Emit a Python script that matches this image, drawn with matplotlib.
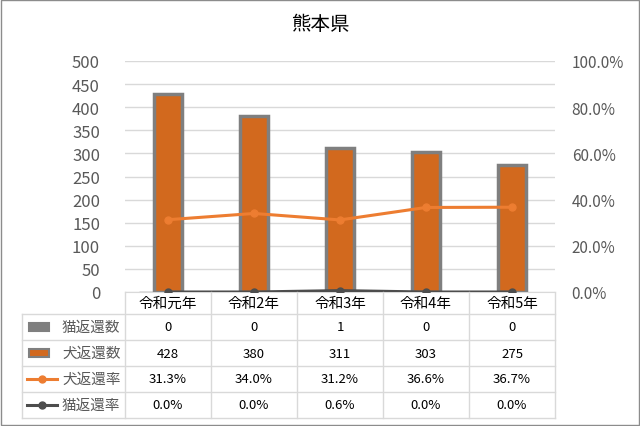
import matplotlib
matplotlib.use("Agg")
import matplotlib.pyplot as plt
from matplotlib.lines import Line2D
from matplotlib.patches import Rectangle

plt.rcParams['font.family'] = ['Noto Sans CJK JP', 'DejaVu Sans']

categories = ['令和元年', '令和2年', '令和3年', '令和4年', '令和5年']
cat_count = [0, 0, 1, 0, 0]
dog_count = [428, 380, 311, 303, 275]
dog_rate = [31.3, 34.0, 31.2, 36.6, 36.7]
cat_rate = [0.0, 0.0, 0.6, 0.0, 0.0]
series_names = ['猫返還数', '犬返還数', '犬返還率', '猫返還率']

W, H = 640, 427
fig = plt.figure(figsize=(6.4, 4.27), dpi=100)
def fx(x): return x / W
def fy(y): return 1 - y / H

ORANGE = '#D2691E'
LINE_OR = '#ED7D31'
GRAY = '#7F7F7F'
DARK = '#4D4D4D'
GRID = '#D9D9D9'
TXT = '#595959'

fig.add_artist(Rectangle((fx(1), fy(426)), fx(638), 425/H, transform=fig.transFigure,
                         fill=False, edgecolor='#8C8C8C', lw=1))
fig.text(0.5, fy(25), '熊本県', ha='center', va='center', fontsize=14, color='black')

x0, x1, ytop, ybot = 125, 555, 62, 293
ax = fig.add_axes([fx(x0), fy(ybot), fx(x1) - fx(x0), (ybot - ytop) / H])
xs = list(range(len(categories)))
ax.bar([x - 0.17 for x in xs], cat_count, width=0.34, color=GRAY, edgecolor=GRAY)
ax.bar(xs, dog_count, width=0.32, color=ORANGE, edgecolor=GRAY, lw=2.5)
ax.set_xlim(-0.5, 4.5)
ax.set_ylim(0, 500)
ax.set_yticks(range(0, 501, 50))
ax.yaxis.grid(True, color=GRID, lw=1)
ax.set_axisbelow(True)
ax.set_xticks([])
for s in ['top', 'right', 'left']:
    ax.spines[s].set_visible(False)
ax.spines['bottom'].set_color(GRID)
ax.tick_params(axis='y', length=0, labelsize=12, labelcolor=TXT, pad=18)

ax2 = ax.twinx()
ax2.plot(xs, dog_rate, color=LINE_OR, lw=2.2, marker='o', ms=5)
ax2.plot(xs, cat_rate, color=DARK, lw=2.2, marker='o', ms=5)
ax2.set_ylim(0, 100)
ax2.set_yticks(range(0, 101, 20))
ax2.set_yticklabels([f'{v:.1f}%' for v in range(0, 101, 20)])
ax2.tick_params(axis='y', length=0, labelsize=11, labelcolor=TXT, pad=12)
for s in ax2.spines.values():
    s.set_visible(False)

# data table
cols = [x0 + i * (x1 - x0) / 5 for i in range(6)]
rows = [293, 315, 341, 367, 393, 419]
def hline(xa, xb, y):
    fig.add_artist(Line2D([fx(xa), fx(xb)], [fy(y), fy(y)], color=GRID, lw=1))
def vline(x, ya, yb):
    fig.add_artist(Line2D([fx(x), fx(x)], [fy(ya), fy(yb)], color=GRID, lw=1))
for y in rows[1:]:
    hline(22, x1, y)
for x in cols:
    vline(x, rows[0], rows[-1])
vline(22, rows[1], rows[-1])
for i, c in enumerate(categories):
    fig.text(fx((cols[i] + cols[i + 1]) / 2), fy((rows[0] + rows[1]) / 2), c,
             ha='center', va='center', fontsize=10.5, color='black')
values = [[str(v) for v in cat_count], [str(v) for v in dog_count],
          [f'{v:.1f}%' for v in dog_rate], [f'{v:.1f}%' for v in cat_rate]]
for r in range(4):
    yc = (rows[r + 1] + rows[r + 2]) / 2
    for i in range(5):
        fig.text(fx((cols[i] + cols[i + 1]) / 2), fy(yc), values[r][i],
                 ha='center', va='center', fontsize=9.5, color='black')
    fig.text(fx(62), fy(yc), series_names[r], ha='left', va='center', fontsize=10.5, color=TXT)
    if r < 2:
        fc = GRAY if r == 0 else ORANGE
        fig.add_artist(Rectangle((fx(29), fy(yc + 4)), fx(20), 8 / H, transform=fig.transFigure,
                                 facecolor=fc, edgecolor=GRAY, lw=1.5))
    else:
        col = LINE_OR if r == 2 else DARK
        fig.add_artist(Line2D([fx(27), fx(57)], [fy(yc), fy(yc)], color=col, lw=2.2))
        fig.add_artist(Line2D([fx(42)], [fy(yc)], color=col, marker='o', ms=5))

fig.savefig('out.png', dpi=100)
